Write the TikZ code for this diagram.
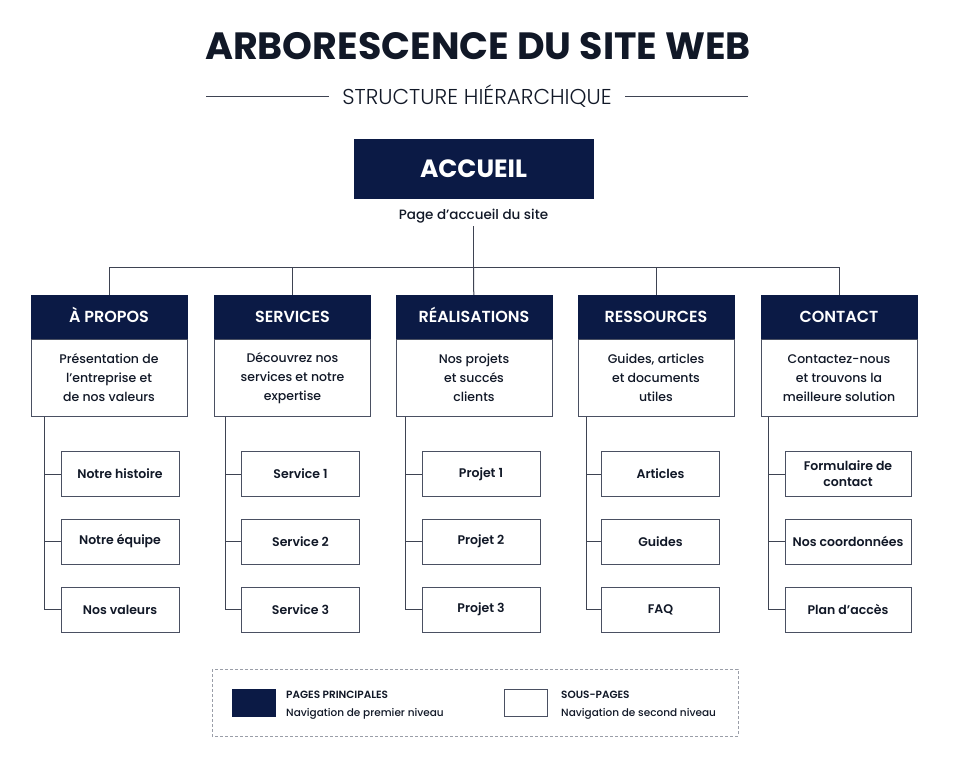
\documentclass[tikz,border=0pt]{standalone}
\usepackage{fontspec}
\setmainfont{Poppins}[BoldFont={Poppins SemiBold}]
\newfontfamily\medfont{Poppins Medium}
\newfontfamily\heavyfont{Poppins Bold}
\newfontfamily\lightfont{Poppins Light}
\usetikzlibrary{positioning}
\definecolor{navy}{HTML}{0B1A45}
\definecolor{ink}{HTML}{111827}
\definecolor{boxline}{HTML}{4A5062}
\definecolor{treeline}{HTML}{3E4352}
\definecolor{keyline}{HTML}{9A9EA8}

\begin{document}
\begin{tikzpicture}[
  x=1pt,y=-1pt,
  node distance=0pt and 10pt,
  mainhead/.style={draw=navy,fill=navy,text=white,minimum width=156pt,minimum height=44pt,inner sep=0pt,text height=11.5pt,text depth=0pt,font=\fontsize{16}{18}\selectfont\bfseries},
  mainbody/.style={draw=boxline,fill=white,minimum width=156pt,minimum height=77pt,inner sep=0pt,align=center,text=ink,font=\fontsize{12.5}{19}\selectfont\medfont},
  subpage/.style={draw=boxline,fill=white,minimum width=118pt,minimum height=45pt,inner sep=0pt,align=center,text=ink,font=\fontsize{12.5}{16}\selectfont\bfseries},
  branch/.style={draw=treeline,line width=1pt},
  keytext/.style={anchor=west,inner sep=0pt,text=ink,font=\fontsize{10.5}{12}\selectfont\medfont}
]
  \useasboundingbox[fill=white] (0,0) rectangle (959,768);

  % title
  \node[text=ink,font=\fontsize{38}{40}\selectfont\heavyfont] (title) at (478,46) {ARBORESCENCE DU SITE WEB};
  \node[text=ink,font=\fontsize{21.5}{23}\selectfont\lightfont] (subtitle) at (477,96) {STRUCTURE HIÉRARCHIQUE};
  \draw[treeline] ([xshift=-10pt]subtitle.west) -- ++(-123,0);
  \draw[treeline] ([xshift=10pt]subtitle.east) -- ++(123,0);

  % home
  \node[mainhead,minimum width=239pt,minimum height=59pt,text height=18pt,font=\fontsize{25}{27}\selectfont\heavyfont] (accueil) at (473.5,168.5) {ACCUEIL};
  \node[text=ink,font=\fontsize{13.5}{15}\selectfont\medfont,below=7pt of accueil] (accdesc) {Page d’accueil du site};
  \coordinate (hub) at (473.5,267);

  % main pages
  \node[mainhead] (aph) at (109,317) {À PROPOS};
  \node[mainbody,below=of aph] (apb) {Présentation de\\l’entreprise et\\de nos valeurs};
  \node[mainhead] (seh) at (292.5,317) {SERVICES};
  \node[mainbody,below=of seh] (seb) {Découvrez nos\\services et notre\\expertise};
  \node[mainhead] (reh) at (474,317) {RÉALISATIONS};
  \node[mainbody,below=of reh] (reb) {Nos projets\\et succés\\clients};
  \node[mainhead] (rsh) at (656,317) {RESSOURCES};
  \node[mainbody,below=of rsh] (rsb) {Guides, articles\\et documents\\utiles};
  \node[mainhead] (coh) at (839,317) {CONTACT};
  \node[mainbody,below=of coh] (cob) {Contactez-nous\\et trouvons la\\meilleure solution};

  \draw[branch] (accdesc) -- (hub);
  \draw[branch] (hub) -| (aph);
  \draw[branch] (hub) -| (seh);
  \draw[branch] (hub) -- (reh);
  \draw[branch] (hub) -| (rsh);
  \draw[branch] (hub) -| (coh);

  % sub pages
  \node[subpage] (ap1) at (120,474) {Notre histoire};
  \node[subpage] (ap2) at (120,541.5) {Notre équipe};
  \node[subpage] (ap3) at (120,609.5) {Nos valeurs};
  \node[subpage] (se1) at (300.5,474) {Service 1};
  \node[subpage] (se2) at (300.5,541.5) {Service 2};
  \node[subpage] (se3) at (300.5,609.5) {Service 3};
  \node[subpage] (re1) at (481,474) {Projet 1};
  \node[subpage] (re2) at (481,541.5) {Projet 2};
  \node[subpage] (re3) at (481,609.5) {Projet 3};
  \node[subpage] (rs1) at (660.5,474) {Articles};
  \node[subpage] (rs2) at (660.5,541.5) {Guides};
  \node[subpage] (rs3) at (660.5,609.5) {FAQ};
  \node[subpage,minimum width=126pt] (co1) at (848,474) {Formulaire de\\contact};
  \node[subpage,minimum width=126pt] (co2) at (848,541.5) {Nos coordonnées};
  \node[subpage,minimum width=126pt] (co3) at (848,609.5) {Plan d’accès};

  \draw[branch] ([xshift=14pt]apb.south west) |- (ap1.west);
  \draw[branch] ([xshift=14pt]apb.south west) |- (ap2.west);
  \draw[branch] ([xshift=14pt]apb.south west) |- (ap3.west);
  \draw[branch] ([xshift=11pt]seb.south west) |- (se1.west);
  \draw[branch] ([xshift=11pt]seb.south west) |- (se2.west);
  \draw[branch] ([xshift=11pt]seb.south west) |- (se3.west);
  \draw[branch] ([xshift=10pt]reb.south west) |- (re1.west);
  \draw[branch] ([xshift=10pt]reb.south west) |- (re2.west);
  \draw[branch] ([xshift=10pt]reb.south west) |- (re3.west);
  \draw[branch] ([xshift=9pt]rsb.south west) |- (rs1.west);
  \draw[branch] ([xshift=9pt]rsb.south west) |- (rs2.west);
  \draw[branch] ([xshift=9pt]rsb.south west) |- (rs3.west);
  \draw[branch] ([xshift=8pt]cob.south west) |- (co1.west);
  \draw[branch] ([xshift=8pt]cob.south west) |- (co2.west);
  \draw[branch] ([xshift=8pt]cob.south west) |- (co3.west);

  % legend
  \draw[keyline,dashed,dash pattern=on 3pt off 2pt] (212,669) rectangle (738,736);
  \node[fill=navy,draw=navy,minimum width=43pt,minimum height=27pt,inner sep=0pt] (keymain) at (253.5,702.5) {};
  \node[keytext,font=\fontsize{10.5}{12}\selectfont\bfseries] (keymaint) at (286,695) {PAGES PRINCIPALES};
  \node[keytext] (keymaind) at (286,714) {Navigation de premier niveau};
  \node[draw=boxline,fill=white,line width=1pt,minimum width=43pt,minimum height=27pt,inner sep=0pt] (keysub) at (526,702.5) {};
  \node[keytext,font=\fontsize{10.5}{12}\selectfont\bfseries] (keysubt) at (561,695) {SOUS-PAGES};
  \node[keytext] (keysubd) at (561,714) {Navigation de second niveau};
\end{tikzpicture}
\end{document}
